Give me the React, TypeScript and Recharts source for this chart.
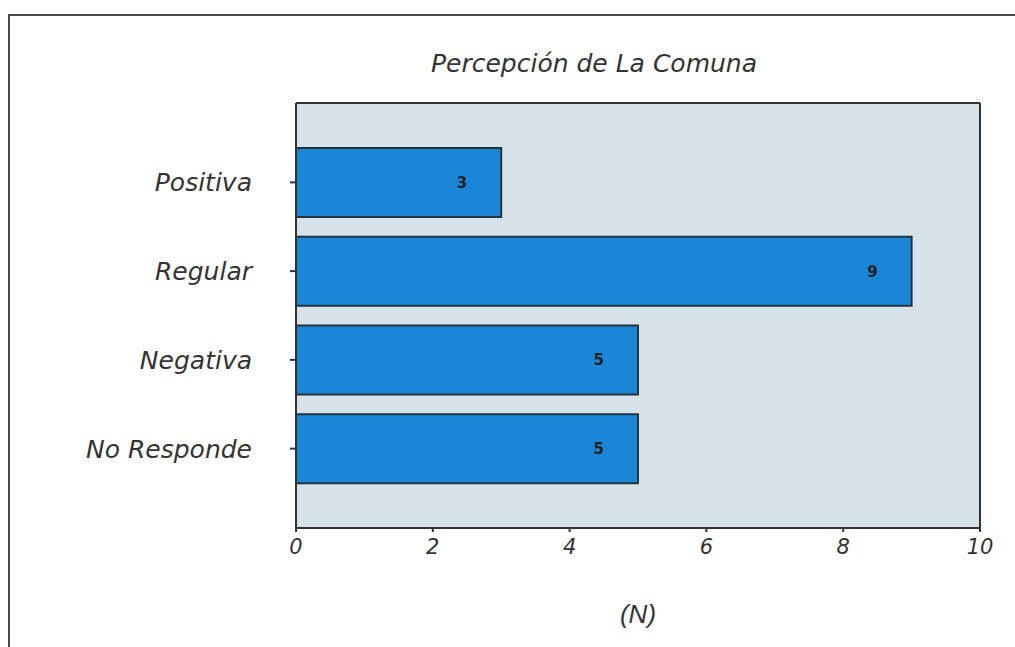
import { BarChart, Bar, XAxis, YAxis, CartesianGrid, LabelList } from 'recharts';

const categories = ['Positiva', 'Regular', 'Negativa', 'No Responde'];
const counts = [3, 9, 5, 5];
const xTicks = [0, 2, 4, 6, 8, 10];

const data = categories.map((name, i) => ({ name, value: counts[i] }));

const font = '"DejaVu Sans", "Open Sans", sans-serif';

export default function App() {
    return (
        <div style={{ position: 'absolute', left: 0, top: 0, width: 1015, height: 647, background: '#fff', overflow: 'hidden' }}>
            {/* outer frame, cut off on the right and bottom */}
            <div
                style={{
                    position: 'absolute',
                    left: 8,
                    top: 14,
                    width: 1040,
                    height: 700,
                    border: '2px solid #4a4a4a',
                    boxSizing: 'border-box',
                }}
            />
            <div
                style={{
                    position: 'absolute',
                    left: 0,
                    top: 49,
                    width: 1188,
                    textAlign: 'center',
                    fontFamily: font,
                    fontStyle: 'italic',
                    fontSize: 25,
                    color: '#333',
                }}
            >
                Percepción de La Comuna
            </div>
            <BarChart
                width={1015}
                height={647}
                data={data}
                layout="vertical"
                margin={{ top: 102, right: 34, bottom: 0, left: 0 }}
                barCategoryGap={10}
                style={{ position: 'absolute', left: 0, top: 0 }}
            >
                <CartesianGrid fill="#d7e1e8" horizontal={false} vertical={false} />
                <XAxis
                    type="number"
                    domain={[0, 10]}
                    ticks={xTicks}
                    height={119}
                    stroke="#333"
                    strokeWidth={2}
                    tickSize={4}
                    tickMargin={7}
                    tick={{ fill: '#333', fontSize: 21, fontStyle: 'italic', fontFamily: font }}
                    label={{ value: '(N)', position: 'insideBottom', offset: 24, fill: '#333', fontSize: 26, fontStyle: 'italic', fontFamily: '"Liberation Sans", Arial, sans-serif' }}
                />
                <XAxis xAxisId="top" type="number" domain={[0, 10]} orientation="top" height={1} tick={false} tickLine={false} stroke="#333" strokeWidth={2} />
                <YAxis
                    type="category"
                    dataKey="name"
                    width={296}
                    padding={{ top: 35, bottom: 35 }}
                    stroke="#333"
                    strokeWidth={2}
                    tickSize={6}
                    tickMargin={38}
                    tick={{ fill: '#333', fontSize: 25, fontStyle: 'italic', fontFamily: font }}
                />
                <YAxis yAxisId="right" type="category" dataKey="name" orientation="right" width={1} tick={false} tickLine={false} stroke="#333" strokeWidth={2} />
                <Bar dataKey="value" fill="#1b86d6" stroke="#22343f" strokeWidth={2} isAnimationActive={false}>
                    <LabelList dataKey="value" position="insideRight" offset={34} fill="#222" fontSize={15} fontWeight="bold" fontFamily={font} />
                </Bar>
            </BarChart>
        </div>
    );
}
